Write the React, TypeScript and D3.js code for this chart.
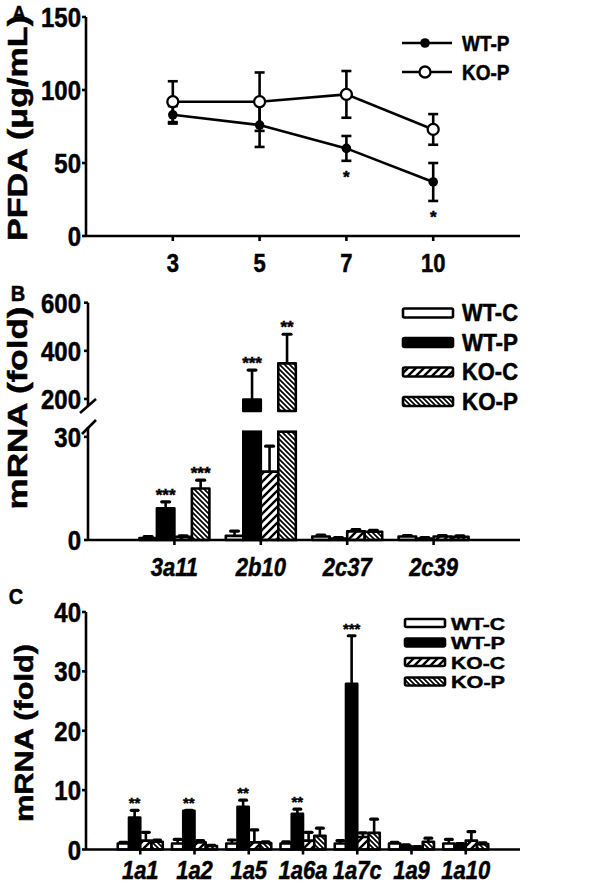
import React from "react";
import * as d3 from "d3";

// ---------- Panel A data ----------
const days = ["3", "5", "7", "10"];
const wtP_A = [83, 76, 60, 37];
const wtP_A_err = [6, 15, 8.5, 13];
const koP_A = [92, 92, 97, 73];
const koP_A_err = [14, 20, 16, 10.5];
const starsA = ["", "", "*", "*"];
const ticksA = [0, 50, 100, 150];

// ---------- Panel B data ----------
const genesB = ["3a11", "2b10", "2c37", "2c39"];
const series = ["WT-C", "WT-P", "KO-C", "KO-P"];
const wtC_B = [0.6, 1.2, 1.0, 1.0];
const wtC_B_err = [0.4, 1.4, 0.4, 0.3];
const wtP_B = [9.2, 198, 0.4, 0.4];
const wtP_B_err = [1.9, 122, 0.3, 0.3];
const koC_B = [0.9, 19.9, 2.5, 1.0];
const koC_B_err = [0.3, 7.4, 0.5, 0.3];
const koP_B = [15.0, 348, 2.4, 0.9];
const koP_B_err = [2.4, 121, 0.4, 0.3];
const starsB_wtP = ["***", "***", "", ""];
const starsB_koP = ["***", "**", "", ""];
const ticksB_low = [0, 30];
const ticksB_high = [200, 400, 600];

// ---------- Panel C data ----------
const genesC = ["1a1", "1a2", "1a5", "1a6a", "1a7c", "1a9", "1a10"];
const wtC_C = [1.0, 1.0, 1.0, 1.0, 1.0, 1.0, 1.0];
const wtC_C_err = [0.2, 0.7, 0.6, 0.3, 0.5, 0.2, 0.7];
const wtP_C = [5.4, 6.5, 7.2, 6.0, 27.9, 0.6, 0.7];
const wtP_C_err = [1.2, 0.1, 1.1, 0.8, 8.1, 0.2, 0.3];
const koC_C = [1.5, 1.2, 1.2, 1.5, 2.1, 0.3, 1.5];
const koC_C_err = [1.4, 0.3, 2.1, 1.4, 0.7, 0.2, 1.5];
const koP_C = [1.3, 0.6, 1.1, 2.3, 2.8, 1.3, 0.9];
const koP_C_err = [0.3, 0.1, 0.2, 1.3, 2.3, 0.6, 0.2];
const starsC_wtP = ["**", "**", "**", "**", "***", "", ""];
const ticksC = [0, 10, 20, 30, 40];

const FONT = "'Liberation Sans', Arial, Helvetica, sans-serif";
const SW = 2.6;

type TP = {
  x: number; y: number; size: number; children: React.ReactNode;
  anchor?: string; sy?: number; italic?: boolean; len?: number;
};
function T({ x, y, size, children, anchor = "middle", sy = 1.17, italic = false, len }: TP) {
  return (
    <text
      transform={`translate(${x},${y}) scale(1,${sy})`}
      fontSize={size}
      textAnchor={anchor as any}
      fontWeight="bold"
      fontStyle={italic ? "italic" : "normal"}
      fontFamily={FONT}
      fill="#000"
      stroke="#000"
      strokeWidth={0.45}
      textLength={len}
      lengthAdjust={len ? "spacingAndGlyphs" : undefined}
    >
      {children}
    </text>
  );
}

function VLabel({ x, y, size, len, children }: { x: number; y: number; size: number; len: number; children: React.ReactNode }) {
  return (
    <text
      transform={`translate(${x},${y}) rotate(-90)`}
      fontSize={size}
      textAnchor="middle"
      fontWeight="bold"
      fontFamily={FONT}
      stroke="#000"
      strokeWidth={0.5}
      textLength={len}
      lengthAdjust="spacingAndGlyphs"
    >
      {children}
    </text>
  );
}

const fills: Record<string, string> = {
  "WT-C": "#fff",
  "WT-P": "#000",
  "KO-C": "url(#hatchKOC)",
  "KO-P": "url(#hatchKOP)",
};

function ErrBar({ x, y0, y1, cap }: { x: number; y0: number; y1: number; cap: number }) {
  return (
    <g stroke="#000" strokeLinecap="butt">
      <line x1={x} x2={x} y1={y0} y2={y1} strokeWidth={SW} />
      <line x1={x - cap / 2} x2={x + cap / 2} y1={y1} y2={y1} strokeWidth={3.2} strokeLinecap="round" />
    </g>
  );
}

function BarLegend({ x, y0, dy, w, h, tx, size, sy, by, len }: { x: number; y0: number; dy: number; w: number; h: number; tx: number; size: number; sy: number; by: number; len: number }) {
  return (
    <g>
      {series.map((s, i) => (
        <g key={s}>
          <rect x={x} y={y0 + i * dy - h / 2} width={w} height={h} fill={fills[s]} stroke="#000" strokeWidth={SW} rx={1.5} strokeLinejoin="round" />
          <T x={tx} y={y0 + i * dy + by} size={size} sy={sy} anchor="start" len={len}>{s}</T>
        </g>
      ))}
    </g>
  );
}

function PanelA() {
  const x = d3.scalePoint<string>().domain(days).range([86, 520]).padding(1);
  const y = d3.scaleLinear().domain([0, 150]).range([236, 17]);
  const lineGen = d3.line<number>().x((_, i) => x(days[i])!).y((d) => y(d));
  const cap = 10;
  return (
    <g>
      <T x={19} y={19} size={18} sy={1.05}>A</T>
      <VLabel x={27} y={128} size={28} len={226}>PFDA (μg/mL)</VLabel>
      <line x1={86} x2={86} y1={y(150)} y2={y(0)} stroke="#000" strokeWidth={SW} />
      <line x1={86} x2={520} y1={y(0)} y2={y(0)} stroke="#000" strokeWidth={SW} />
      {ticksA.map((t) => (
        <g key={t}>
          <line x1={82} x2={86} y1={y(t)} y2={y(t)} stroke="#000" strokeWidth={SW} />
          <T x={81} y={y(t) + 10} size={24} anchor="end">{t}</T>
        </g>
      ))}
      {days.map((d) => (
        <g key={d}>
          <line x1={x(d)} x2={x(d)} y1={y(0)} y2={y(0) + 5} stroke="#000" strokeWidth={SW} />
          <T x={x(d)!} y={272} size={22} sy={1.2}>{d}</T>
        </g>
      ))}
      {days.map((d, i) => (
        <g key={"e" + d} stroke="#000" strokeWidth={SW}>
          <line x1={x(d)} x2={x(d)} y1={y(koP_A[i] - koP_A_err[i])} y2={y(koP_A[i] + koP_A_err[i])} />
          <line x1={x(d)! - cap / 2} x2={x(d)! + cap / 2} y1={y(koP_A[i] + koP_A_err[i])} y2={y(koP_A[i] + koP_A_err[i])} />
          <line x1={x(d)! - cap / 2} x2={x(d)! + cap / 2} y1={y(koP_A[i] - koP_A_err[i])} y2={y(koP_A[i] - koP_A_err[i])} />
          <line x1={x(d)} x2={x(d)} y1={y(wtP_A[i] - wtP_A_err[i])} y2={y(wtP_A[i] + wtP_A_err[i])} />
          <line x1={x(d)! - cap / 2} x2={x(d)! + cap / 2} y1={y(wtP_A[i] + wtP_A_err[i])} y2={y(wtP_A[i] + wtP_A_err[i])} />
          <line x1={x(d)! - cap / 2} x2={x(d)! + cap / 2} y1={y(wtP_A[i] - wtP_A_err[i])} y2={y(wtP_A[i] - wtP_A_err[i])} />
        </g>
      ))}
      <path d={lineGen(koP_A)!} fill="none" stroke="#000" strokeWidth={SW} />
      <path d={lineGen(wtP_A)!} fill="none" stroke="#000" strokeWidth={SW} />
      {days.map((d, i) => (
        <g key={"m" + d}>
          <circle cx={x(d)} cy={y(wtP_A[i])} r={4.8} fill="#000" />
          <circle cx={x(d)} cy={y(koP_A[i])} r={5.5} fill="#fff" stroke="#000" strokeWidth={2.3} />
          {starsA[i] && (
            <T x={x(d)!} y={y(wtP_A[i] - wtP_A_err[i]) + 22} size={17} sy={1}>{starsA[i]}</T>
          )}
        </g>
      ))}
      <line x1={402} x2={452} y1={43} y2={43} stroke="#000" strokeWidth={SW} />
      <circle cx={425} cy={43} r={4.8} fill="#000" />
      <T x={462} y={51} size={19} anchor="start">WT-P</T>
      <line x1={402} x2={452} y1={72} y2={72} stroke="#000" strokeWidth={SW} />
      <circle cx={425} cy={72} r={5.5} fill="#fff" stroke="#000" strokeWidth={2.3} />
      <T x={462} y={80} size={19} anchor="start">KO-P</T>
    </g>
  );
}

function PanelB() {
  const ax = 88;
  const x = d3.scalePoint<string>().domain(genesB).range([ax, 520]).padding(1);
  const inner = d3.scaleBand<string>().domain(series).range([-35, 35]);
  const bw = inner.bandwidth();
  const cut = 31.5;
  const yLow = d3.scaleLinear().domain([0, cut]).range([540, 431.7]);
  const yHigh = d3.scaleLinear().domain([150, 600]).range([411, 302.7]);
  const vals = [wtC_B, wtP_B, koC_B, koP_B];
  const errs = [wtC_B_err, wtP_B_err, koC_B_err, koP_B_err];
  const yOf = (v: number) => (v <= cut ? yLow(v) : yHigh(v));
  return (
    <g>
      <T x={18} y={301} size={20} sy={1.1}>B</T>
      <VLabel x={27} y={408} size={28} len={203}>mRNA (fold)</VLabel>
      {genesB.map((g, gi) => (
        <g key={g}>
          {series.map((s, si) => {
            const v = vals[si][gi];
            const e = errs[si][gi];
            const bx = x(g)! + inner(s)!;
            const cx = bx + bw / 2;
            const top = yOf(v + e);
            if (v <= cut) {
              return (
                <g key={s}>
                  <ErrBar x={cx} y0={yLow(v)} y1={top} cap={bw * 0.45} />
                  <rect x={bx} y={yLow(v)} width={bw} height={540 - yLow(v)} fill={fills[s]} stroke="#000" strokeWidth={SW} strokeLinejoin="round" />
                </g>
              );
            }
            return (
              <g key={s}>
                <ErrBar x={cx} y0={yHigh(v)} y1={top} cap={bw * 0.45} />
                <rect x={bx} y={yLow(cut)} width={bw} height={540 - yLow(cut)} fill={fills[s]} stroke="#000" strokeWidth={SW} />
                <rect x={bx} y={yHigh(v)} width={bw} height={yHigh(150) - yHigh(v)} fill={fills[s]} stroke="#000" strokeWidth={SW} strokeLinejoin="round" />
              </g>
            );
          })}
          {starsB_wtP[gi] && (
            <T x={x(g)! + inner("WT-P")! + bw / 2} y={yOf(wtP_B[gi] + wtP_B_err[gi]) - 1} size={17} sy={1}>{starsB_wtP[gi]}</T>
          )}
          {starsB_koP[gi] && (
            <T x={x(g)! + inner("KO-P")! + bw / 2} y={yOf(koP_B[gi] + koP_B_err[gi]) - 1} size={17} sy={1}>{starsB_koP[gi]}</T>
          )}
        </g>
      ))}
      <line x1={ax} x2={ax} y1={yHigh(600)} y2={406} stroke="#000" strokeWidth={SW} />
      <line x1={ax - 8} x2={ax + 8} y1={413} y2={399} stroke="#000" strokeWidth={SW} />
      <line x1={ax} x2={ax} y1={427} y2={540} stroke="#000" strokeWidth={SW} />
      <line x1={ax - 6} x2={ax + 8} y1={434} y2={420} stroke="#000" strokeWidth={SW} />
      <line x1={ax} x2={520} y1={540} y2={540} stroke="#000" strokeWidth={SW} />
      {ticksB_high.map((t) => (
        <g key={t}>
          <line x1={ax - 4} x2={ax} y1={yHigh(t)} y2={yHigh(t)} stroke="#000" strokeWidth={SW} />
          <T x={ax - 7} y={yHigh(t) + 10} size={24} anchor="end">{t}</T>
        </g>
      ))}
      {ticksB_low.map((t) => (
        <g key={t}>
          <line x1={ax - 4} x2={ax} y1={yLow(t)} y2={yLow(t)} stroke="#000" strokeWidth={SW} />
          <T x={ax - 7} y={yLow(t) + 10} size={24} anchor="end">{t}</T>
        </g>
      ))}
      {genesB.map((g) => (
        <g key={"t" + g}>
          <line x1={x(g)} x2={x(g)} y1={540} y2={545} stroke="#000" strokeWidth={SW} />
          <T x={x(g)!} y={576} size={22} sy={1.18} italic>{g}</T>
        </g>
      ))}
      <BarLegend x={403} y0={313} dy={29.5} w={50} h={9} tx={462} size={20} sy={1.15} by={8} len={56} />
    </g>
  );
}

function PanelC() {
  const ax = 86;
  const x = d3.scalePoint<string>().domain(genesC).range([ax, 520]).padding(1);
  const inner = d3.scaleBand<string>().domain(series).range([-22.5, 22.5]);
  const bw = inner.bandwidth();
  const y = d3.scaleLinear().domain([0, 40]).range([849.5, 612]);
  const vals = [wtC_C, wtP_C, koC_C, koP_C];
  const errs = [wtC_C_err, wtP_C_err, koC_C_err, koP_C_err];
  return (
    <g>
      <T x={16} y={604} size={20} sy={1.1}>C</T>
      <VLabel x={33} y={733} size={26} len={178}>mRNA (fold)</VLabel>
      {genesC.map((g, gi) => (
        <g key={g}>
          {series.map((s, si) => {
            const v = vals[si][gi];
            const e = errs[si][gi];
            const bx = x(g)! + inner(s)!;
            return (
              <g key={s}>
                <ErrBar x={bx + bw / 2} y0={y(v)} y1={y(v + e)} cap={bw * 0.6} />
                <rect x={bx} y={y(v)} width={bw} height={y(0) - y(v)} fill={fills[s]} stroke="#000" strokeWidth={SW} strokeLinejoin="round" />
              </g>
            );
          })}
          {starsC_wtP[gi] && (
            <T x={x(g)! + inner("WT-P")! + bw / 2} y={y(wtP_C[gi] + wtP_C_err[gi]) - 2} size={15} sy={1}>{starsC_wtP[gi]}</T>
          )}
        </g>
      ))}
      <line x1={ax} x2={ax} y1={y(40)} y2={y(0)} stroke="#000" strokeWidth={SW} />
      <line x1={ax} x2={520} y1={y(0)} y2={y(0)} stroke="#000" strokeWidth={SW} />
      {ticksC.map((t) => (
        <g key={t}>
          <line x1={ax - 4} x2={ax} y1={y(t)} y2={y(t)} stroke="#000" strokeWidth={SW} />
          <T x={ax - 5} y={y(t) + 10} size={24} anchor="end">{t}</T>
        </g>
      ))}
      {genesC.map((g) => (
        <g key={"t" + g}>
          <line x1={x(g)} x2={x(g)} y1={y(0)} y2={y(0) + 5} stroke="#000" strokeWidth={SW} />
          <T x={x(g)!} y={879} size={22} sy={1.18} italic>{g}</T>
        </g>
      ))}
      <BarLegend x={405} y0={623} dy={19.5} w={40} h={8} tx={451} size={16.5} sy={1.0} by={6.5} len={54} />
    </g>
  );
}

export default function App() {
  return (
    <svg
      width={600}
      height={883}
      viewBox="0 0 600 883"
      style={{ position: "absolute", left: 0, top: 0, background: "#fff" }}
    >
      <defs>
        <pattern id="hatchKOC" patternUnits="userSpaceOnUse" width={8} height={8}>
          <rect width={8} height={8} fill="#fff" />
          <path d="M-2,2 l4,-4 M0,8 l8,-8 M6,10 l4,-4" stroke="#000" strokeWidth={2.4} />
        </pattern>
        <pattern id="hatchKOP" patternUnits="userSpaceOnUse" width={5} height={5}>
          <rect width={5} height={5} fill="#fff" />
          <path d="M0,0 l5,5 M-1,4 l2,2 M4,-1 l2,2" stroke="#000" strokeWidth={1.7} />
        </pattern>
      </defs>
      <rect width={600} height={883} fill="#fff" />
      <PanelA />
      <PanelB />
      <PanelC />
    </svg>
  );
}
